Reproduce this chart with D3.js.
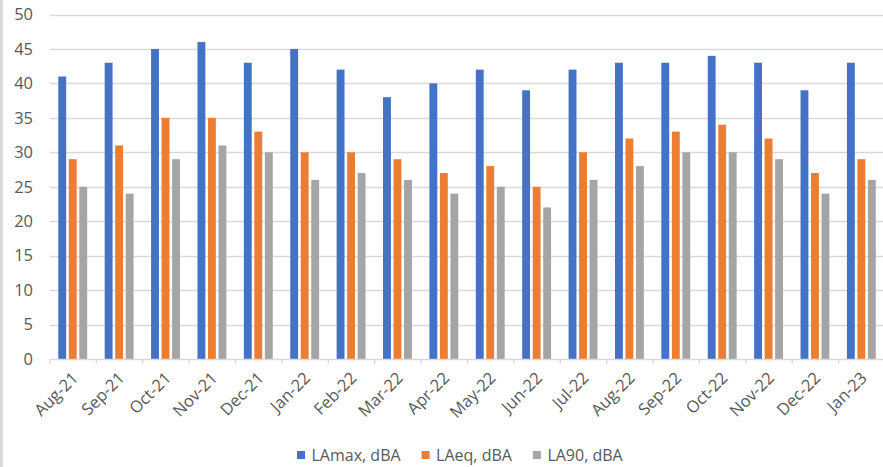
<!DOCTYPE html>
<html><head><meta charset="utf-8">
<script src="https://cdn.jsdelivr.net/npm/d3@7"></script>
<style>
html,body{margin:0;padding:0;background:#fff;}
svg{display:block;}
text{font-family:"Open Sans","Liberation Sans",sans-serif;fill:#595959;}
</style></head>
<body>
<script>
const months = ["Aug-21","Sep-21","Oct-21","Nov-21","Dec-21","Jan-22","Feb-22","Mar-22","Apr-22","May-22","Jun-22","Jul-22","Aug-22","Sep-22","Oct-22","Nov-22","Dec-22","Jan-23"];
const seriesNames = ["LAmax, dBA","LAeq, dBA","LA90, dBA"];
const LAmax = [41,43,45,46,43,45,42,38,40,42,39,42,43,43,44,43,39,43];
const LAeq  = [29,31,35,35,33,30,30,29,27,28,25,30,32,33,34,32,27,29];
const LA90  = [25,24,29,31,30,26,27,26,24,25,22,26,28,30,30,29,24,26];
const yTicks = [0,5,10,15,20,25,30,35,40,45,50];
const colors = ["#4472C4","#ED7D31","#A5A5A5"];

const W = 883, H = 467;
const svg = d3.select("body").append("svg").attr("width", W).attr("height", H);

// left border
svg.append("rect").attr("x",0).attr("y",0).attr("width",3).attr("height",H).attr("fill","#d9d9d9");

const pLeft = 50, pRight = 885, pTop = 14.5, pBottom = 359;
const y = d3.scaleLinear().domain([0,50]).range([pBottom, pTop]);
const x0 = d3.scaleBand().domain(months).range([pLeft, pRight]).paddingInner(0).paddingOuter(0);
const x1 = d3.scaleBand().domain(seriesNames).range([8.3, x0.bandwidth() - 9.2]).paddingInner(0.25).paddingOuter(0);

// gridlines
svg.append("g").selectAll("line").data(yTicks.filter(d=>d>0)).join("line")
  .attr("x1", pLeft).attr("x2", W).attr("y1", d=>Math.round(y(d))+0.5).attr("y2", d=>Math.round(y(d))+0.5)
  .attr("stroke","#d9d9d9").attr("stroke-width",1.3);

// y labels
svg.append("g").selectAll("text").data(yTicks).join("text")
  .attr("x", 33).attr("y", d=>y(d)).attr("dy","0.35em")
  .attr("text-anchor","end").attr("font-size","16.5px").text(d=>d);

// bars
const seriesVals = [LAmax, LAeq, LA90];
const groups = svg.append("g").selectAll("g").data(months).join("g")
  .attr("transform", d=>`translate(${x0(d)},0)`);
groups.selectAll("rect").data((m,i)=>seriesNames.map((s,k)=>({s, v: seriesVals[k][i], k})))
  .join("rect")
  .attr("x", d=>x1(d.s)).attr("width", x1.bandwidth())
  .attr("y", d=>y(d.v)).attr("height", d=>y(0)-y(d.v))
  .attr("fill", d=>colors[d.k]);

// x axis line and ticks
const ax = svg.append("g");
ax.append("line").attr("x1", pLeft).attr("x2", W).attr("y1", pBottom+0.5).attr("y2", pBottom+0.5)
  .attr("stroke","#d9d9d9").attr("stroke-width",1.3);
ax.selectAll("line.t").data(months.concat(["__end"])).join("line").attr("class","t")
  .attr("x1", (d,i)=>pLeft + i*x0.step()).attr("x2",(d,i)=>pLeft + i*x0.step())
  .attr("y1", pBottom).attr("y2", pBottom+5).attr("stroke","#d9d9d9").attr("stroke-width",1.3);

// x labels rotated
svg.append("g").selectAll("text").data(months).join("text")
  .attr("transform", d=>`translate(${x0(d)+x0.bandwidth()/2+2},${pBottom+16}) rotate(-45)`)
  .attr("text-anchor","end").attr("dy","0.35em").attr("font-size","16.5px").text(d=>d);

// legend
const lg = svg.append("g");
let lx = 297;
seriesNames.forEach((s,k)=>{
  lg.append("rect").attr("x", lx).attr("y", 451).attr("width", 8).attr("height", 8).attr("fill", colors[k]);
  const t = lg.append("text").attr("x", lx+14.5).attr("y", 455).attr("dy","0.35em").attr("font-size","16px").text(s);
  const w = t.node().getComputedTextLength();
  lx = lx + 14.5 + w + 21;
});
</script>
</body></html>
